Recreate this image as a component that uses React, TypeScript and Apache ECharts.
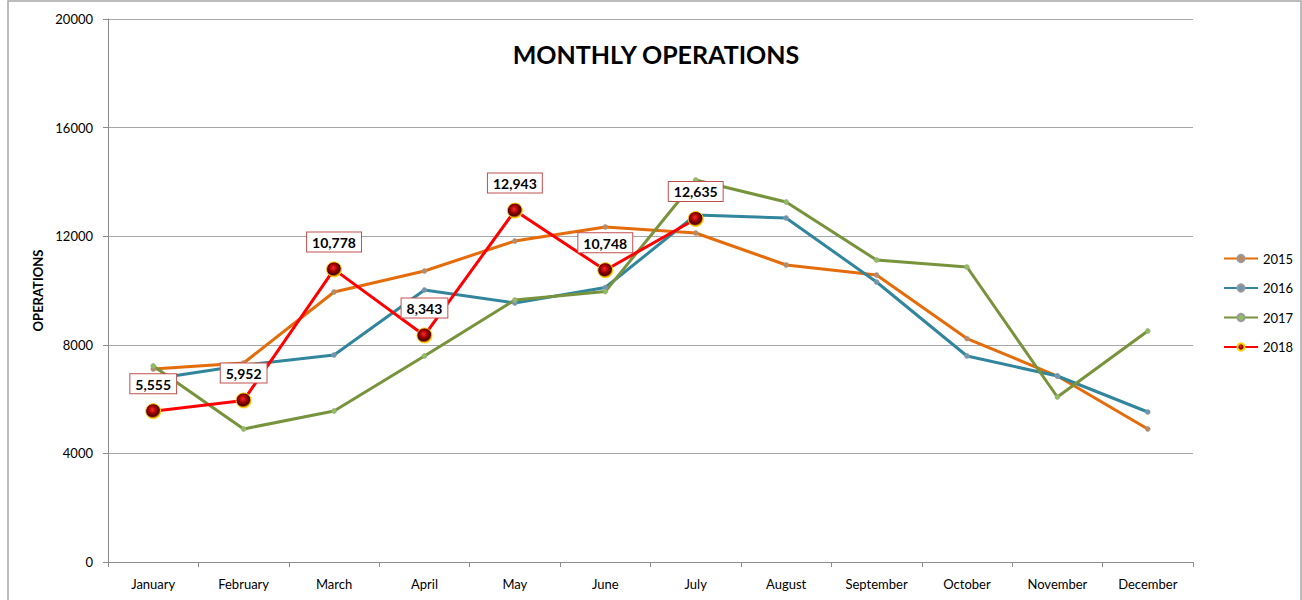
import React, { useEffect, useRef } from "react";
import * as echarts from "echarts";

const months = ["January", "February", "March", "April", "May", "June", "July", "August", "September", "October", "November", "December"];
const ops2015 = [7110, 7330, 9945, 10718, 11823, 12339, 12118, 10939, 10571, 8230, 6850, 4900];
const ops2016 = [6740, 7250, 7624, 10018, 9540, 10110, 12780, 12670, 10313, 7587, 6851, 5525];
const ops2017 = [7219, 4900, 5562, 7587, 9650, 9960, 14070, 13260, 11123, 10865, 6077, 8508];
const ops2018: (number | null)[] = [5555, 5952, 10778, 8343, 12943, 10748, 12635, null, null, null, null, null];
const yTicks = [0, 4000, 8000, 12000, 16000, 20000];

const FONT = "Lato, 'Open Sans', sans-serif";

export default function App() {
  const ref = useRef<HTMLDivElement>(null);
  useEffect(() => {
    if (!ref.current) return;
    const chart = echarts.init(ref.current, undefined, { renderer: "svg" });
    const small = (name: string, data: (number | null)[], color: string, mcolor: string) => ({
      name,
      type: "line",
      data,
      symbol: "circle",
      symbolSize: 5,
      showSymbol: true,
      lineStyle: { color, width: 3 },
      itemStyle: { color: mcolor, borderColor: "#9a9a9a", borderWidth: 0.5 },
      z: 2,
    });
    chart.setOption({
      animation: false,
      textStyle: { fontFamily: FONT },
      title: {
        text: "MONTHLY OPERATIONS",
        left: 651,
        textAlign: "center",
        top: 36,
        textStyle: { fontFamily: FONT, fontSize: 25, fontWeight: "bold", color: "#000" },
      },
      graphic: [
        {
          type: "rect",
          shape: { x: 8, y: 1, width: 1293, height: 640 },
          style: { fill: "none", stroke: "#a6a6a6", lineWidth: 1.5 },
          silent: true,
          z: -10,
        },
      ],
      legend: {
        orient: "vertical",
        left: 1218,
        top: 247,
        itemWidth: 34,
        itemHeight: 9,
        itemGap: 16.5,
        textStyle: { fontFamily: FONT, fontSize: 13, color: "#000" },
        data: ["2015", "2016", "2017", "2018"],
      },
      grid: { left: 108, right: 109, top: 19, bottom: 38 },
      xAxis: {
        type: "category",
        data: months,
        boundaryGap: true,
        axisLine: { lineStyle: { color: "#8c8c8c", width: 1 } },
        axisTick: { show: true, length: 5, alignWithLabel: false, lineStyle: { color: "#8c8c8c" } },
        axisLabel: { color: "#000", fontSize: 13, margin: 15, fontFamily: FONT, interval: 0 },
      },
      yAxis: {
        type: "value",
        min: yTicks[0],
        max: yTicks[yTicks.length - 1],
        interval: 4000,
        name: "OPERATIONS",
        nameLocation: "middle",
        nameRotate: 90,
        nameGap: 63,
        nameTextStyle: { fontFamily: FONT, fontSize: 13, fontWeight: "bold", color: "#000" },
        axisLine: { show: true, lineStyle: { color: "#8c8c8c", width: 1 } },
        axisTick: { show: true, length: 5, lineStyle: { color: "#8c8c8c" } },
        axisLabel: { color: "#000", fontSize: 13, margin: 15, fontFamily: FONT, formatter: (v: number) => String(v) },
        splitLine: { show: true, lineStyle: { color: "#a6a6a6", width: 1 } },
      },
      series: [
        small("2015", ops2015, "#E46C0A", "#b98a63"),
        small("2016", ops2016, "#31859C", "#6e95b4"),
        small("2017", ops2017, "#77933C", "#8fbf5a"),
        {
          name: "2018",
          type: "line",
          data: ops2018,
          symbol: "circle",
          symbolSize: 15,
          lineStyle: { color: "#FF0000", width: 3 },
          itemStyle: {
            color: new echarts.graphic.RadialGradient(0.45, 0.4, 0.6, [
              { offset: 0, color: "#ff2a2a" },
              { offset: 0.45, color: "#9a0000" },
              { offset: 0.75, color: "#4a0000" },
              { offset: 0.9, color: "#e08a00" },
              { offset: 1, color: "#ffd400" },
            ]),
            borderColor: "#ffd000",
            borderWidth: 1,
          },
          label: {
            show: true,
            position: "top",
            distance: 10,
            formatter: (p: any) => Number(p.value).toLocaleString("en-US"),
            backgroundColor: "#fff",
            borderColor: "#C0504D",
            borderWidth: 1,
            padding: [3, 5, 2, 5],
            fontFamily: FONT,
            fontSize: 14,
            fontWeight: "bold",
            color: "#000",
          },
          z: 5,
        },
      ],
    });
    return () => chart.dispose();
  }, []);
  return <div ref={ref} style={{ position: "absolute", left: 0, top: 0, width: 1302, height: 600 }} />;
}
